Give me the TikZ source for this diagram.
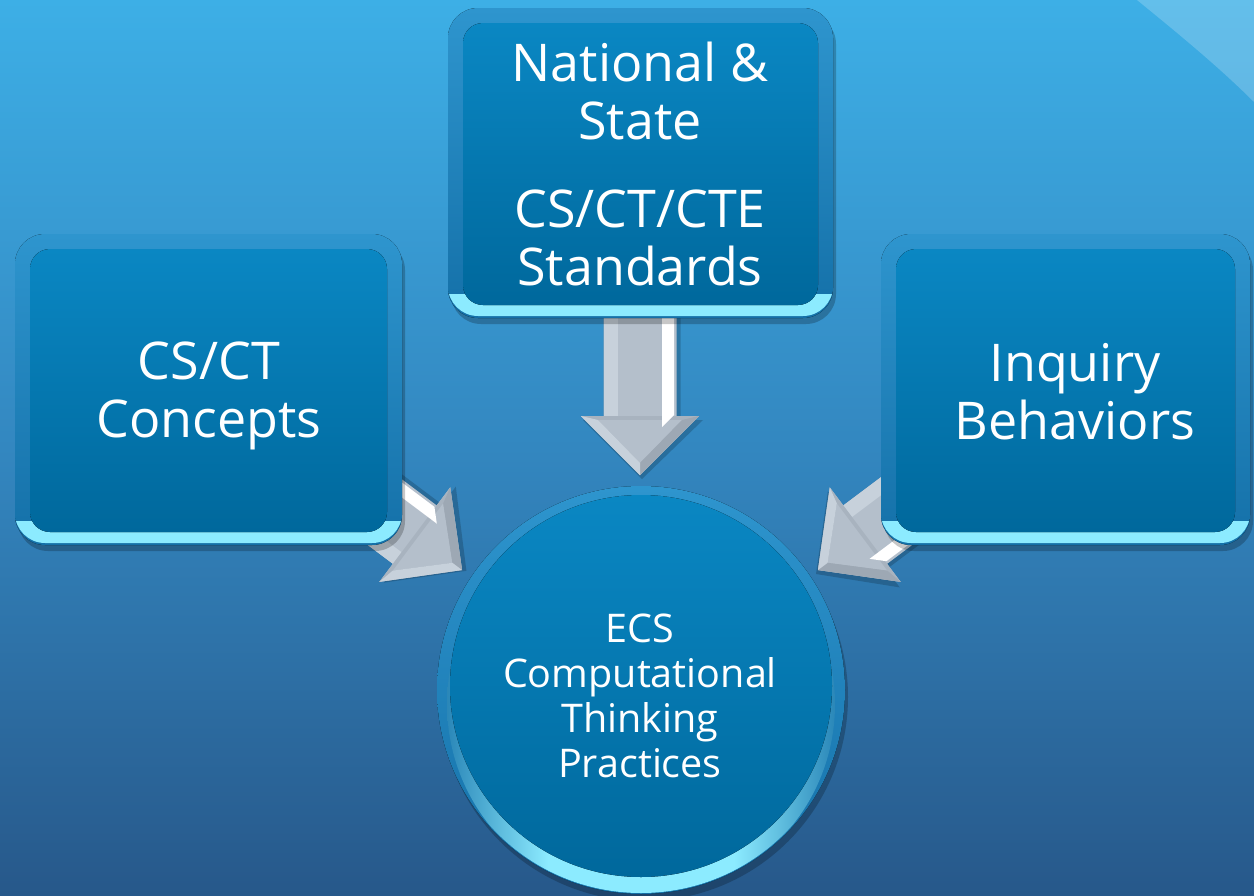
\documentclass[tikz,border=0pt]{standalone}
\usepackage{fontspec}
\setmainfont{Open Sans}
\usetikzlibrary{calc}
\definecolor{bgtop}{HTML}{3DAFE6}
\definecolor{bgmid}{HTML}{3387C0}
\definecolor{bgbot}{HTML}{27588A}
\definecolor{rimtop}{HTML}{2E95CE}
\definecolor{rimbot}{HTML}{1470A8}
\definecolor{bevelc}{HTML}{8CEBFF}
\definecolor{facetop}{HTML}{0A87C3}
\definecolor{facebot}{HTML}{00689C}
\definecolor{arrowbody}{HTML}{B4BFCB}
\definecolor{arrowlight}{HTML}{C7D1DB}
\definecolor{arrowhead}{HTML}{A8B3BF}
\definecolor{arrowdark}{HTML}{9DA8B4}
\pgfdeclarehorizontalshading{rimshade}{100bp}{color(0bp)=(rimbot); color(22bp)=(rimbot); color(38bp)=(bevelc); color(62bp)=(bevelc); color(78bp)=(rimbot); color(100bp)=(rimbot)}
\pgfdeclarehorizontalshading{barshade}{100bp}{color(0bp)=(rimbot); color(6bp)=(bevelc); color(94bp)=(bevelc); color(100bp)=(rimbot)}
\tikzset{
  boxshadow/.style={fill=black, opacity=0.22, rounded corners=30pt},
  boxrim/.style={top color=rimtop, bottom color=rimbot, rounded corners=30pt},
  boxface/.style={top color=facetop, bottom color=facebot, rounded corners=20pt},
  biglabel/.style={text=white, align=center, inner sep=0pt, font=\fontsize{52}{58}\selectfont},
  smalllabel/.style={text=white, align=center, inner sep=0pt, font=\fontsize{39.5}{45}\selectfont},
}
\newcommand\bevelbox[4]{%
  \fill[boxshadow] (#1+3,#2+6) rectangle (#3+3,#4+6);
  \fill[boxrim] (#1,#2) rectangle (#3,#4);
  \begin{scope}
    \clip[rounded corners=30pt] (#1,#2) rectangle (#3,#4-2);
    \shade[shading=barshade] (#1,#4-24) rectangle (#3,#4);
  \end{scope}
  \fill[boxface] (#1+15,#2+15) rectangle (#3-15,#4-13);
}
\newcommand\blockarrow[3]{%
  \begin{scope}[shift={(#1)}, rotate=#2]
    \fill[black, opacity=0.18] (-36.5,-#3) -- (40.5,-#3) -- (40.5,-55) -- (63,-55) -- (2,4) -- (-57,-55) -- (-36.5,-55) -- cycle;
    \fill[arrowbody] (-36.5,-#3) -- (36.5,-#3) -- (36.5,-59) -- (59,-59) -- (0,0) -- (-59,-59) -- (-36.5,-59) -- cycle;
    \fill[arrowlight] (-36.5,-#3) rectangle (-22,-59);
    \fill[arrowhead] (-59,-59) -- (59,-59) -- (0,0) -- cycle;
    \fill[arrowbody] (-42,-55) -- (42,-55) -- (0,-12) -- cycle;
    \fill[arrowdark] (0,0) -- (59,-59) -- (42,-55) -- (0,-12) -- cycle;
    \fill[arrowlight] (-59,-59) -- (-42,-55) -- (0,-12) -- (0,0) -- cycle;
    \fill[white] (22,-#3) -- (34,-#3) -- (34,-60) -- (22,-48) -- cycle;
  \end{scope}
}
\begin{document}
\begin{tikzpicture}[x=1pt, y=-1pt]
  \useasboundingbox (0,0) rectangle (1254,895);
  % background
  \fill[top color=bgtop, bottom color=bgbot, middle color=bgmid] (0,0) rectangle (1254,895);
  \fill[white, opacity=0.2] (1137,0) .. controls (1180,35) and (1220,68) .. (1254,102) -- (1254,0) -- cycle;
  % arrow tips
  \coordinate (tipT) at (640,475);
  \coordinate (tipL) at (462,570);
  \coordinate (tipR) at (818,570);
  \blockarrow{tipT}{0}{175}
  \blockarrow{tipL}{53.13}{200}
  \blockarrow{tipR}{-53.13}{200}
  % boxes
  \bevelbox{15}{234}{402}{545}
  \node[biglabel] (concepts) at (209,396) {CS/CT\\Concepts};
  \bevelbox{448}{8}{833}{318}
  \node[biglabel] (standards) at (640,164) {National \&\\State\\[30pt]CS/CT/CTE\\Standards};
  \bevelbox{881}{234}{1250}{545}
  \node[biglabel] (inquiry) at (1075,392) {Inquiry\\Behaviors};
  % circle
  \fill[black, opacity=0.22] (644,697) circle (204);
  \fill[top color=rimtop, bottom color=rimbot] (641,690) circle (204);
  \begin{scope}
    \clip (641,690) circle (203);
    \shade[shading=rimshade] (641,704) circle (194);
  \end{scope}
  \fill[top color=facetop, bottom color=facebot] (641,686) circle (191);
  \node[smalllabel] (ecs) at (640,696) {ECS\\Computational\\Thinking\\Practices};
\end{tikzpicture}
\end{document}
